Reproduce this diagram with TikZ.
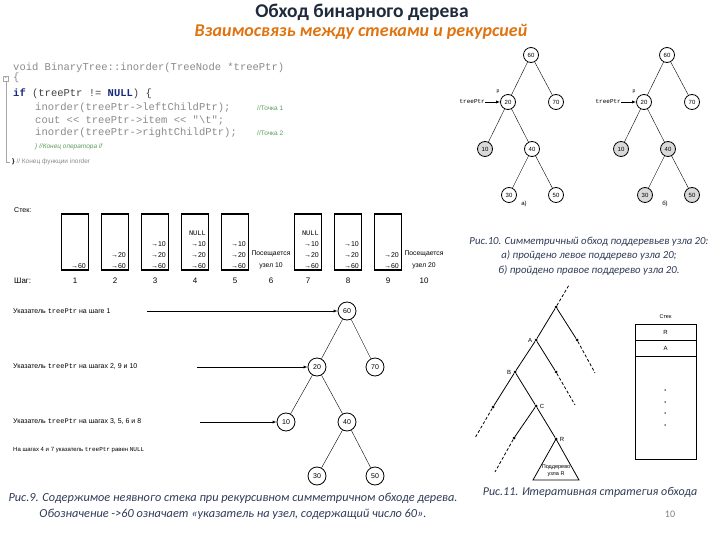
\documentclass[tikz,border=0pt]{standalone}
\usepackage{fontspec}
\setmainfont{Carlito}
\setsansfont{Liberation Sans}
\setmonofont{Liberation Mono}
\usetikzlibrary{arrows, positioning}
\tikzset{>=latex}
\definecolor{titlecol}{HTML}{1F2A3C}
\definecolor{subcol}{HTML}{E0730F}
\definecolor{capcol}{HTML}{2E3A56}
\definecolor{codecol}{HTML}{8A8A8A}
\definecolor{kwcol}{HTML}{1A2A80}
\definecolor{comcol}{HTML}{5A9A5A}
\newcommand{\fsz}[1]{\fontsize{#1}{#1}\selectfont}
\newcommand{\ar}[1]{→#1}
\newcommand{\nul}{{\ttfamily\fsz{7}NULL}}
\tikzset{
  vert/.style={circle, draw, thick, minimum size=15pt, inner sep=0pt, font=\sffamily\fsz{6}},
  seen/.style={vert, fill=gray!30},
  bigvert/.style={circle, draw, thick, minimum size=18pt, inner sep=0pt, font=\sffamily\fsz{7}},
  stackbox/.style={draw, line width=1.1pt, minimum width=27pt, minimum height=56pt, inner sep=0pt},
  entry/.style={anchor=east, inner sep=0pt, font=\sffamily\fsz{7}},
  small/.style={inner sep=0pt, font=\sffamily\fsz{7}},
  codeline/.style={anchor=west, inner sep=0pt, font=\ttfamily\fsz{10.5}, text=codecol},
  comment/.style={anchor=west, inner sep=0pt, font=\sffamily\fsz{6.5}, text=comcol},
  caption/.style={inner sep=0pt, text=capcol, align=center},
  dot/.style={circle, fill, inner sep=0pt, minimum size=3pt},
  cell/.style={draw, minimum width=61pt, inner sep=0pt, font=\sffamily\fsz{6}},
  tail/.style={dash pattern=on 3pt off 2pt},
}
\begin{document}
\begin{tikzpicture}[x=1pt, y=-1pt]
\useasboundingbox (0,0) rectangle (720,540);
% titles
\node[font=\bfseries\fsz{19.5}, text=titlecol] (title) at (362,12) {Обход бинарного дерева};
\node[font=\bfseries\itshape\fsz{18}, text=subcol] (subtitle) at (361,32) {Взаимосвязь между стеками и рекурсией};

% code of inorder
\node[codeline] (c1) at (13,68) {void BinaryTree::inorder(TreeNode *treePtr)};
\node[codeline] (c2) at (13,78) {\{};
\node[codeline, text=black!75] (c3) at (13,94) {{\bfseries\color{kwcol}if} (treePtr != {\bfseries\color{kwcol}NULL}) \{};
\node[codeline] (c4) at (35,108) {inorder(treePtr->leftChildPtr);};
\node[codeline] (c5) at (35,121) {cout << treePtr->item << "\textbackslash t";};
\node[codeline] (c6) at (35,133) {inorder(treePtr->rightChildPtr);};
\node[comment] (t1) at (257,108) {//Точка 1};
\node[comment] (t2) at (257,133) {//Точка 2};
\node[comment, font=\sffamily\itshape\fsz{6.5}] (c7) at (35,147) {\} //Конец оператора if};
\node[comment, text=codecol] (c8) at (12,162) {{\bfseries\color{black}\}} // Конец функции inorder};
\node[draw=gray!70, minimum size=5pt, inner sep=0pt, font=\fsz{5}] (fold) at (6,79) {-};
\draw[gray!70] (fold) -- (6,162) -- (10,162);

% trees of fig. 10
\foreach \tn/\dx/\sh/\lab/\lx in {a/0/vert/а)/524, b/136/seen/б)/665} {
  \node[vert] (\tn60) at (531+\dx,55) {60};
  \node[vert] (\tn20) at (508+\dx,102) {20};
  \node[vert] (\tn70) at (556+\dx,102) {70};
  \node[seen] (\tn10) at (485+\dx,149) {10};
  \node[\sh] (\tn40) at (532+\dx,149) {40};
  \node[\sh] (\tn30) at (509+\dx,195) {30};
  \node[\sh] (\tn50) at (556+\dx,195) {50};
  \draw (\tn60) -- (\tn20) (\tn60) -- (\tn70) (\tn20) -- (\tn10)
        (\tn20) -- (\tn40) (\tn40) -- (\tn30) (\tn40) -- (\tn50);
  \node[small, font=\sffamily\fsz{5}] (\tn p) at (498+\dx,92) {p};
  \node[small, anchor=east, font=\ttfamily\fsz{6}] (\tn ptr) at (485+\dx,102) {treePtr};
  \draw[->] (\tn ptr) -- (\tn20);
  \node[small, font=\sffamily\fsz{6}] (\tn cap) at (\lx,204) {\lab};
}
\node[caption, font=\rmfamily\itshape\fontsize{10.8}{14.5}\selectfont] (cap10) at (589,256)
  {Рис.10. Симметричный обход поддеревьев узла 20:\\
   а) пройдено левое поддерево узла 20;\\
   б) пройдено правое поддерево узла 20.};

% stack at each step
\node[small, anchor=west] (stk) at (14,210) {Стек:};
\node[small, anchor=west, font=\sffamily\fsz{8}] (stp) at (14,281) {Шаг:};
\foreach \n/\x/\items in {1/75/{\ar{60}}, 2/115/{\ar{60},\ar{20}},
    3/155/{\ar{60},\ar{20},\ar{10}}, 4/195/{\ar{60},\ar{20},\ar{10},\nul},
    5/235/{\ar{60},\ar{20},\ar{10}}, 7/308/{\ar{60},\ar{20},\ar{10},\nul},
    8/348/{\ar{60},\ar{20},\ar{10}}, 9/388/{\ar{60},\ar{20}}} {
  \node[stackbox] (s\n) at (\x,242) {};
  \node[small, font=\sffamily\fsz{8}] (k\n) at (\x,281) {\n};
  \foreach \v [count=\r from 0] in \items
    \node[entry] (e\n-\r) at (\x+11,266-11*\r) {\v};
}
\foreach \n/\x/\u in {6/271/10, 10/424/20} {
  \node[small, align=center, font=\sffamily\fontsize{6.8}{12}\selectfont] (s\n) at (\x,260) {Посещается\\узел \u};
  \node[small, font=\sffamily\fsz{8}] (k\n) at (\x,281) {\n};
}

% fig. 9
\node[bigvert] (b60) at (347,311) {60};
\node[bigvert] (b20) at (317,367) {20};
\node[bigvert] (b70) at (375,367) {70};
\node[bigvert] (b10) at (286,422) {10};
\node[bigvert] (b40) at (347,422) {40};
\node[bigvert] (b30) at (317,476) {30};
\node[bigvert] (b50) at (375,476) {50};
\draw (b60) -- (b20) (b60) -- (b70) (b20) -- (b10) (b20) -- (b40) (b40) -- (b30) (b40) -- (b50);
\node[small, anchor=west] (p1) at (13,311) {Указатель {\ttfamily treePtr} на шаге 1};
\node[small, anchor=west] (p2) at (13,367) {Указатель {\ttfamily treePtr} на шагах 2, 9 и 10};
\node[small, anchor=west] (p3) at (13,422) {Указатель {\ttfamily treePtr} на шагах 3, 5, 6 и 8};
\node[small, anchor=west, font=\sffamily\fsz{6}] (p4) at (13,450) {На шагах 4 и 7 указатель {\ttfamily treePtr} равен {\ttfamily NULL}};
\coordinate (p1e) at (147,311);
\coordinate (p2e) at (197,367);
\coordinate (p3e) at (200,422);
\draw[->] (p1e) -- (b60);
\draw[->] (p2e) -- (b20);
\draw[->] (p3e) -- (b10);
\node[caption, font=\rmfamily\itshape\fontsize{12.3}{16}\selectfont] (cap9) at (233,506)
  {Рис.9. Содержимое неявного стека при рекурсивном симметричном обходе дерева.\\
   Обозначение ->60 означает «указатель на узел, содержащий число 60».};

% fig. 11
\node[dot] (r0) at (556,307) {};
\node[dot] (nA) at (536,340) {};
\node[dot] (r1) at (577,340) {};
\node[dot] (nB) at (515,372) {};
\node[dot] (a1) at (556,372) {};
\node[dot] (b1) at (493,407) {};
\node[dot] (nC) at (536,406) {};
\node[dot] (c1) at (514,438) {};
\node[dot] (nR) at (556,439) {};
\coordinate (top) at (569,285);
\coordinate (r1e) at (595,373);
\coordinate (a1e) at (575,405);
\coordinate (b1e) at (475,438);
\coordinate (c1e) at (495,472);
\draw[thick] (r0) -- (nA) (r0) -- (r1) (nA) -- (nB) (nA) -- (a1)
  (nB) -- (b1) (nB) -- (nC) (nC) -- (c1) (nC) -- (nR);
\draw[thick, tail] (r0) -- (top) (r1) -- (r1e) (a1) -- (a1e) (b1) -- (b1e) (c1) -- (c1e);
\node[small, font=\sffamily\fsz{6}, left=2pt of nA] (lA) {A};
\node[small, font=\sffamily\fsz{6}, left=2pt of nB] (lB) {B};
\node[small, font=\sffamily\fsz{6}, right=2pt of nC] (lC) {C};
\node[small, font=\sffamily\fsz{6}, right=2pt of nR] (lR) {R};
\draw[thick] (nR.center) -- ++(-23,41) -- ++(46,0) -- cycle;
\node[small, align=center, font=\sffamily\fontsize{5.5}{7}\selectfont] (sub) at (556,471) {Поддерево\\узла R};
\node[small, font=\sffamily\fsz{5.5}] (qt) at (665.5,317) {Стек};
\node[cell, minimum height=16pt] (qR) at (665.5,332) {R};
\node[cell, minimum height=16pt] (qA) at (665.5,348) {A};
\node[cell, minimum height=103pt] (qrest) at (665.5,407.5) {};
\foreach \y in {390,402,413,425}
  \node[dot, minimum size=1.5pt] (q\y) at (665,\y) {};
\node[caption, font=\rmfamily\itshape\fsz{12}] (cap11) at (590,492) {Рис.11. Итеративная стратегия обхода};
\node[text=gray, font=\rmfamily\fsz{10}] (page) at (670,514) {10};
\end{tikzpicture}
\end{document}
